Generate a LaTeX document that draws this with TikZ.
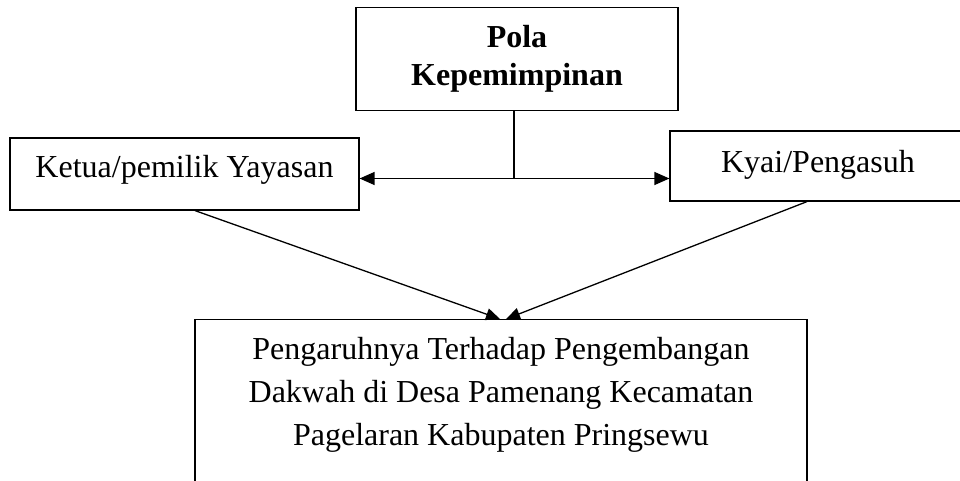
\documentclass[tikz,border=0pt]{standalone}
\usepackage{fontspec}
\setmainfont{Liberation Serif}
\usetikzlibrary{arrows.meta}
\begin{document}
\begin{tikzpicture}[x=1pt,y=-1pt,
  box/.style={draw,line width=1.2pt,inner sep=0pt,align=center,
    font=\fontsize{32}{38}\selectfont},
  link/.style={line width=1.3pt},
  arr/.style={link,-{Triangle[length=14pt,width=12pt]}},
  darr/.style={link,{Triangle[length=15pt,width=13pt]}-{Triangle[length=15pt,width=13pt]}}]
\useasboundingbox (0,0) rectangle (960,481);
\clip (0,0) rectangle (960,481);
\fill[white] (0,0) rectangle (960,481);
% top box
\node[box,minimum width=322pt,minimum height=103pt,font=\bfseries\fontsize{32}{38}\selectfont]
  (top) at (517,59) {Pola\\Kepemimpinan};
% left box
\node[box,minimum width=349pt,minimum height=72pt,text height=22pt,text depth=14pt]
  (left) at (184.5,174) {Ketua/pemilik Yayasan};
% right box
\node[box,minimum width=296pt,minimum height=70pt,text height=22pt,text depth=10pt]
  (right) at (818,166) {Kyai/Pengasuh};
% bottom box (open below the page)
\node[draw,line width=1.2pt,inner sep=0pt,minimum width=612pt,minimum height=220pt,anchor=north]
  (bottom) at (501,319) {};
\node[inner sep=0pt,align=center,font=\fontsize{32}{43}\selectfont]
  (bottomtext) at (501,395) {Pengaruhnya Terhadap Pengembangan\\Dakwah di Desa Pamenang Kecamatan\\Pagelaran Kabupaten Pringsewu};
% connectors
\coordinate (mid) at (514,178.5);
\draw[link] (top.south -| mid) -- (mid);
\draw[darr] (left.east |- mid) -- (right.west |- mid);
\coordinate (lstart) at (195,210);
\coordinate (rstart) at (807,201);
\draw[arr] (left.south -| lstart) -- ([xshift=-1pt]bottom.north);
\draw[arr] (right.south -| rstart) -- ([xshift=5pt]bottom.north);
\end{tikzpicture}
\end{document}
